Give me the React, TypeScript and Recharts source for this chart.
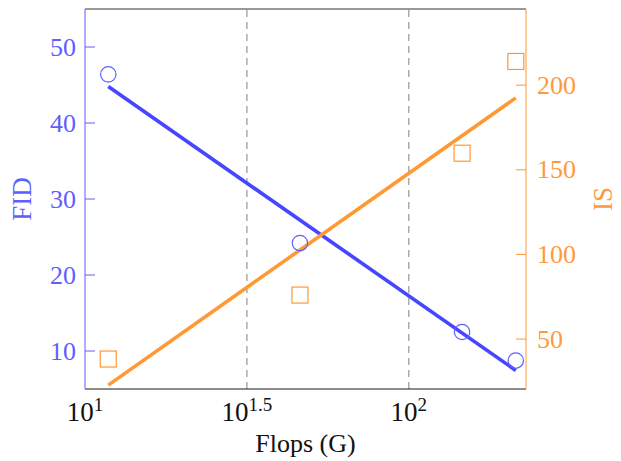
import React from 'react';
import { ComposedChart, XAxis, YAxis, Line, Scatter, ReferenceLine } from 'recharts';

// Measured points
const flops = [11.8, 46.1, 146.0, 213.9];
const fidValues = [46.4, 24.2, 12.5, 8.74];
const isValues = [38.2, 76.0, 159.8, 214.0];

// Fitted trend lines (endpoints)
const fitFlops = [11.8, 213.9];
const fidFitValues = [44.8, 7.44];
const isFitValues = [22.8, 192.5];

// Axes
const xTicks = [10, 31.6228, 100];
const xTickExponents = ['1', '1.5', '2'];
const fidTicks = [10, 20, 30, 40, 50];
const isTicks = [50, 100, 150, 200];
const xDomain = [10, 230];
const fidDomain = [5, 55];
const isDomain = [20.5, 245];

const BLUE_TEXT = '#5f5fff';
const BLUE_LINE = '#4646ff';
const ORANGE = '#ff9933';
const ORANGE_TEXT = '#ff9a3c';
const FONT = "'Liberation Serif', 'Times New Roman', serif";

const fidPoints = flops.map((x, i) => ({ x, y: fidValues[i] }));
const isPoints = flops.map((x, i) => ({ x, y: isValues[i] }));
const fidFit = fitFlops.map((x, i) => ({ x, y: fidFitValues[i] }));
const isFit = fitFlops.map((x, i) => ({ x, y: isFitValues[i] }));

const LEFT_MARGIN = 9;
const RIGHT_MARGIN = 11;

const XTick = (props: any) => {
  const { x, y, payload } = props;
  const idx = xTicks.indexOf(payload.value);
  const exp = idx >= 0 ? xTickExponents[idx] : '';
  return (
    <text x={x} y={y + 32} textAnchor="middle" fontFamily={FONT} fontSize={27} fill="#111">
      <tspan>10</tspan>
      <tspan fontSize={19} dy={-10}>{exp}</tspan>
    </text>
  );
};

const LeftTick = (props: any) => {
  const { x, y, payload } = props;
  const ax = x + LEFT_MARGIN;
  return (
    <g>
      <line x1={ax} x2={ax + 10} y1={y} y2={y} stroke={BLUE_TEXT} strokeWidth={1} />
      <text x={x} y={y} textAnchor="end" dominantBaseline="central" fontFamily={FONT} fontSize={26} fill={BLUE_TEXT}>
        {payload.value}
      </text>
    </g>
  );
};

const RightTick = (props: any) => {
  const { x, y, payload } = props;
  const ax = x - RIGHT_MARGIN;
  return (
    <g>
      <line x1={ax} x2={ax - 10} y1={y} y2={y} stroke={ORANGE} strokeWidth={1} />
      <text x={x} y={y} textAnchor="start" dominantBaseline="central" fontFamily={FONT} fontSize={26} fill={ORANGE_TEXT}>
        {payload.value}
      </text>
    </g>
  );
};

const CircleShape = (props: any) => {
  const { cx, cy } = props;
  return <circle cx={cx} cy={cy} r={7.7} fill="none" stroke={BLUE_TEXT} strokeWidth={1.2} />;
};

const SquareShape = (props: any) => {
  const { cx, cy } = props;
  return <rect x={cx - 8} y={cy - 8} width={16} height={16} fill="none" stroke={ORANGE} strokeWidth={1.2} />;
};

export default function App() {
  return (
    <div style={{ position: 'absolute', left: 0, top: 0 }}>
      <ComposedChart width={621} height={461} margin={{ top: 9, right: 0, bottom: 0, left: 0 }}>
        <XAxis
          type="number"
          dataKey="x"
          scale="log"
          domain={xDomain}
          ticks={xTicks}
          interval={0}
          allowDataOverflow
          height={72}
          stroke="#1a1a1a"
          tickLine={false}
          tickSize={0}
          tickMargin={0}
          tick={<XTick />}
          label={{
            content: (p: any) => {
              const vb = p.viewBox;
              return (
                <text x={vb.x + vb.width / 2} y={vb.y + 63} textAnchor="middle" fontFamily={FONT} fontSize={26} fill="#111">
                  Flops (G)
                </text>
              );
            },
          }}
        />
        <YAxis
          yAxisId="fid"
          orientation="left"
          dataKey="y"
          width={85}
          domain={fidDomain}
          ticks={fidTicks}
          interval={0}
          allowDataOverflow
          stroke={BLUE_TEXT}
          tickLine={false}
          tickSize={0}
          tickMargin={LEFT_MARGIN}
          tick={<LeftTick />}
          label={{
            content: (p: any) => {
              const vb = p.viewBox;
              const cx = vb.x + 22;
              const cy = vb.y + vb.height / 2;
              return (
                <text x={cx} y={cy} transform={`rotate(-90 ${cx} ${cy})`} textAnchor="middle" dominantBaseline="central" fontFamily={FONT} fontSize={27} fill={BLUE_TEXT}>
                  FID
                </text>
              );
            },
          }}
        />
        <YAxis
          yAxisId="is"
          orientation="right"
          dataKey="y"
          width={95}
          domain={isDomain}
          ticks={isTicks}
          interval={0}
          allowDataOverflow
          stroke={ORANGE}
          tickLine={false}
          tickSize={0}
          tickMargin={RIGHT_MARGIN}
          tick={<RightTick />}
          label={{
            content: (p: any) => {
              const vb = p.viewBox;
              const cx = vb.x + 77;
              const cy = vb.y + vb.height / 2;
              return (
                <text x={cx} y={cy} transform={`rotate(-90 ${cx} ${cy})`} textAnchor="middle" dominantBaseline="central" fontFamily={FONT} fontSize={27} fill={ORANGE_TEXT}>
                  IS
                </text>
              );
            },
          }}
        />
        <ReferenceLine yAxisId="fid" y={fidDomain[1]} stroke="#333" strokeWidth={1} />
        {xTicks.slice(1).map((t) => (
          <ReferenceLine key={t} yAxisId="fid" x={t} stroke="#808080" strokeWidth={1} strokeDasharray="7 5" />
        ))}
        <Line
          yAxisId="fid"
          data={fidFit}
          dataKey="y"
          type="linear"
          stroke={BLUE_LINE}
          strokeWidth={3.6}
          dot={false}
          activeDot={false}
          isAnimationActive={false}
        />
        <Line
          yAxisId="is"
          data={isFit}
          dataKey="y"
          type="linear"
          stroke={ORANGE}
          strokeWidth={3.6}
          dot={false}
          activeDot={false}
          isAnimationActive={false}
        />
        <Scatter yAxisId="fid" data={fidPoints} dataKey="y" shape={<CircleShape />} isAnimationActive={false} />
        <Scatter yAxisId="is" data={isPoints} dataKey="y" shape={<SquareShape />} isAnimationActive={false} />
      </ComposedChart>
    </div>
  );
}
